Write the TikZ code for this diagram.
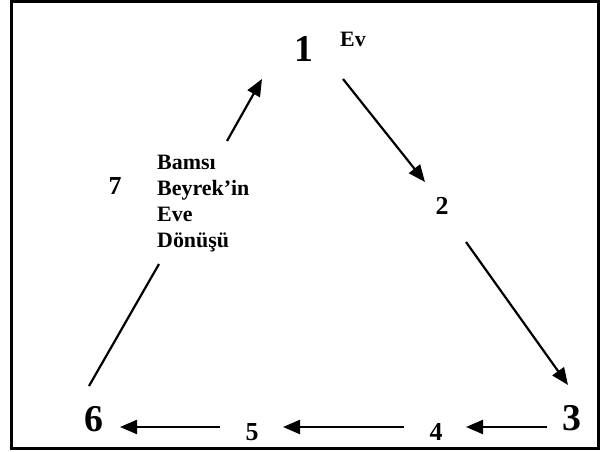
\documentclass[tikz,border=0pt]{standalone}
\usepackage{fontspec}
\setmainfont{Liberation Serif}
\usetikzlibrary{arrows.meta}
\begin{document}
\begin{tikzpicture}[x=1bp,y=-1bp,
  big/.style={font=\fontsize{38}{42}\selectfont\bfseries, inner sep=0pt, anchor=base},
  num/.style={font=\fontsize{26}{28}\selectfont\bfseries, inner sep=0pt, anchor=base},
  lbl/.style={font=\fontsize{22}{26.2}\selectfont\bfseries, inner sep=0pt, anchor=base west, align=left},
  conn/.style={line width=2.2bp, draw=black},
  arr/.style={conn, -{Triangle[length=17bp,width=14bp]}}]
\useasboundingbox (0,0) rectangle (602,452);
\draw[line width=3bp] (11,1.5) rectangle (598,448.5);
% nodes
\node[big] (n1) at (303.5,62) {1};
\node[lbl] (ev) at (340,47) {Ev};
\node[num] (n2) at (442,215) {2};
\node[big] (n3) at (572,430) {3};
\node[num] (n4) at (436,440) {4};
\node[num] (n5) at (252,440) {5};
\node[big] (n6) at (93.5,431) {6};
\node[num] (n7) at (115,195) {7};
\node[lbl] (txt) at (157,248) {Bamsı\\Beyrek’in\\Eve\\Dönüşü};
% connector ends
\coordinate (a1s) at (343,79);   \coordinate (a1e) at (425,182);
\coordinate (a2s) at (466,242);  \coordinate (a2e) at (568,385);
\coordinate (a3s) at (547,427);  \coordinate (a3e) at (466,427);
\coordinate (a4s) at (404,427);  \coordinate (a4e) at (283,427);
\coordinate (a5s) at (220,427);  \coordinate (a5e) at (120,427);
\coordinate (a6s) at (89,386);   \coordinate (a6e) at (159,264);
\coordinate (a7s) at (227,141);  \coordinate (a7e) at (262,79);
\draw[arr] (a1s) -- (a1e);
\draw[arr] (a2s) -- (a2e);
\draw[arr] (a3s) -- (a3e);
\draw[arr] (a4s) -- (a4e);
\draw[arr] (a5s) -- (a5e);
\draw[conn] (a6s) -- (a6e);
\draw[arr] (a7s) -- (a7e);
\end{tikzpicture}
\end{document}
